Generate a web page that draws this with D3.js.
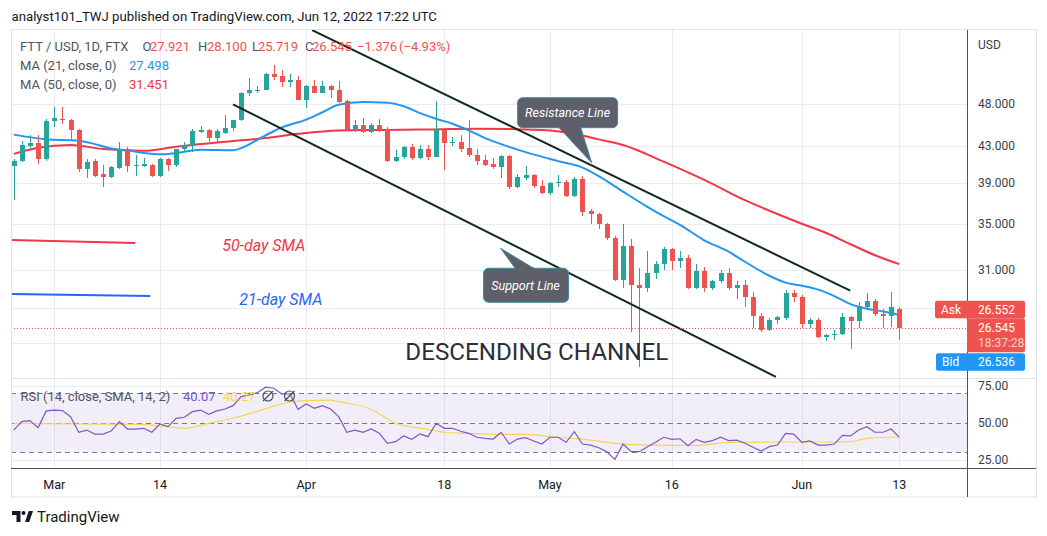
<!DOCTYPE html>
<html><head><meta charset="utf-8">
<script src="https://cdn.jsdelivr.net/npm/d3@7"></script>
<style>body{margin:0;background:#fff;} svg{display:block;font-family:Roboto,"Liberation Sans",sans-serif;}</style>
</head><body><svg id="c" width="1047" height="536"></svg>
<script>
// ---------------- DATA ----------------
const startDay = Date.UTC(2022, 1, 24); // first daily candle (index 0)
const opens  = [40.8,41.3,43.0,43.3,41.5,45.9,46.2,46.0,44.9,40.4,41.3,39.9,39.6,40.6,42.7,40.8,40.8,40.9,39.7,41.5,40.9,42.7,43.0,44.6,44.9,43.9,44.5,45.1,46.0,49.4,49.7,49.9,52.0,51.7,50.9,51.2,48.6,50.4,49.5,50.4,49.9,48.4,44.9,45.5,44.6,45.5,45.0,41.3,41.7,42.9,41.6,42.7,41.8,44.8,43.3,43.5,42.8,42.0,41.4,41.0,40.7,41.9,38.6,39.5,39.8,38.7,38.0,39.0,39.1,37.7,39.4,36.2,35.9,35.0,33.7,30.15,33.0,29.75,29.55,30.75,31.45,32.75,31.75,31.95,29.55,30.85,29.55,30.05,30.75,29.55,29.75,28.85,27.45,26.45,27.15,27.25,29.15,28.85,26.85,27.15,25.95,26.05,26.15,27.35,27.05,28.05,28.55,27.55,27.45,27.921];
const highs  = [41.5,43.6,44.3,44.2,46.2,47.6,47.6,46.2,45.0,41.5,41.5,40.9,40.8,43.5,42.9,42.0,41.6,41.0,41.6,41.6,42.7,43.5,45.0,45.3,45.0,45.0,46.6,46.1,49.6,51.4,50.4,52.2,53.3,52.5,52.0,51.7,50.5,51.2,51.1,50.5,51.1,48.6,46.0,46.3,45.7,46.2,45.2,42.5,43.0,43.2,43.1,43.1,48.4,44.9,44.0,44.3,46.0,42.6,42.0,41.6,42.0,42.0,39.9,40.8,39.9,39.3,39.1,39.8,39.3,39.6,39.7,36.4,36.0,35.1,33.9,35.0,33.6,31.15,32.55,31.75,32.95,32.85,32.55,32.25,31.45,31.25,30.15,30.95,31.15,30.05,30.15,29.25,27.65,27.25,27.45,29.35,29.35,28.95,27.25,27.25,26.15,26.45,27.65,27.45,28.45,29.15,28.65,27.95,29.25,28.100];
const lows   = [37.3,41.2,42.8,41.0,41.3,45.2,45.6,43.8,40.1,39.5,39.6,38.6,39.5,40.5,40.1,39.7,40.7,39.6,39.6,40.2,40.7,42.3,42.3,44.5,43.5,43.5,44.4,44.7,45.9,49.1,49.5,49.8,51.2,50.3,50.2,48.5,47.5,49.4,49.4,48.8,48.2,44.8,44.6,44.5,44.5,44.6,41.2,41.2,41.5,41.4,41.5,41.4,41.7,40.3,43.0,42.3,41.8,40.9,40.8,40.5,39.5,38.4,38.5,39.3,38.5,37.9,37.8,38.6,37.6,37.6,35.7,35.0,34.5,33.5,30.05,29.55,26.25,23.95,29.25,30.25,30.95,30.95,31.15,29.45,29.45,29.25,29.35,29.95,29.35,28.65,28.05,26.55,26.25,26.35,26.85,27.15,28.45,26.55,26.55,25.85,25.65,25.75,26.05,25.15,26.55,27.95,27.45,26.55,26.65,25.719];
const closes = [41.3,43.1,43.3,41.5,45.9,46.3,46.0,44.8,40.4,41.2,39.7,39.6,40.7,42.7,40.8,40.9,41.0,39.7,41.5,40.9,42.6,43.1,44.7,44.9,43.9,44.7,45.1,46.0,49.5,49.8,49.9,52.0,51.6,50.9,51.2,48.6,50.4,49.5,50.4,49.9,48.3,44.9,45.5,44.6,45.5,44.8,41.3,41.8,42.9,41.6,42.7,41.8,44.8,43.3,43.5,42.6,42.0,41.3,40.9,40.7,41.9,38.6,39.6,39.8,38.7,38.0,39.0,39.1,37.7,39.4,36.1,35.9,35.0,33.7,30.15,33.0,29.75,29.55,30.75,31.45,32.75,31.75,31.95,29.55,30.85,29.55,30.05,30.75,29.55,29.75,28.85,27.45,26.45,27.15,27.35,29.15,28.85,26.85,27.15,25.95,26.05,26.15,27.35,27.05,28.15,28.55,27.55,27.45,28.05,26.545];

const ma21Days = [0,4,8,10,12,14,16,18,20,23,27,28,30,32,33,36,38,40,43,46,48,50,52,54,56,58,60,63,67,70,72,75,78,80,82,85,88,90,93,95,97,99,101,103,105,107,109];
const ma21     = [44.3,43.75,43.6,43.2,42.7,42.5,42.2,42.05,42.2,42.55,42.5,42.75,43.7,44.7,45.15,46.1,47.0,47.95,48.3,48.2,47.75,46.9,46.2,45.6,44.8,43.9,43.2,42.3,41.3,40.6,39.7,38.1,36.6,35.7,34.9,33.5,32.5,31.65,30.5,29.95,29.7,29.4,28.9,28.3,27.95,27.75,27.498];
const ma50Days = [0,3,7,11,16,20,27,31,35,40,45,50,57,65,70,72,75,80,85,90,95,97,100,103,106,109];
const ma50     = [42.1,42.8,43.1,42.65,42.45,42.9,43.55,43.9,44.4,44.8,44.85,44.9,45.0,44.85,44.2,43.75,43.1,41.25,39.3,37.25,35.6,35.0,34.15,33.15,32.2,31.451];

const rsi = [45.0,50.7,51.4,46.6,58.0,58.6,58.2,54.1,43.5,45.0,42.3,42.3,44.4,50.7,45.7,45.7,46.2,43.5,49.1,47.3,53.0,53.7,57.5,58.6,55.7,58.0,59.3,61.6,67.7,68.8,70.4,74.1,73.4,69.5,69.5,59.1,62.7,59.8,61.6,59.3,54.1,43.5,45.0,43.5,45.7,42.8,36.0,37.1,41.0,38.7,42.3,40.5,49.6,46.2,46.2,44.2,42.8,40.1,39.4,38.9,43.5,35.5,38.9,39.8,37.6,35.5,40.1,40.1,36.7,43.9,35.5,34.8,33.0,30.3,25.1,35.5,30.3,30.3,33.7,36.7,40.1,38.7,39.1,34.4,38.7,36.7,37.8,40.1,37.8,38.2,36.0,33.3,30.7,33.7,34.8,42.8,42.3,36.7,37.6,34.8,34.8,35.5,41.4,41.0,45.0,47.3,43.5,43.5,45.7,40.07];
const rsiMaDays = [0,8,16,18,21,24,27,30,34,36,39,40,44,47,51,53,56,59,63,67,71,74,78,84,88,94,100,103,105,109];
const rsiMa     = [49.6,49.1,48.9,47.8,46.2,49.6,53.0,57.8,63.9,65.0,65.4,64.3,59.1,49.6,45.5,43.5,42.8,42.1,42.1,40.1,38.2,36.0,34.8,34.6,36.7,36.9,36.9,37.1,39.4,40.27];

const priceTicks = [48, 43, 39, 35, 31, 28, 25.5];
const rsiTicks = [75, 50, 25];
const rsiLevels = [70, 50, 30];
const timeTicks = ["2022-03-01","2022-03-14","2022-04-01","2022-04-18","2022-05-01","2022-05-16","2022-06-01","2022-06-13"];
const timeTickLabels = ["Mar","14","Apr","18","May","16","Jun","13"];
const askPrice = 26.552, bidPrice = 26.536, lastPrice = 26.545, countdown = "18:37:28";

// annotation anchors (day index, price)
const resistanceLine = [[36.72, 58.41], [102.96, 29.32]];
const supportLine    = [[26.99, 48.0], [93.81, 23.34]];
const sma50Key = [[-0.33, 33.53], [14.95, 33.26]];
const sma21Key = [[-0.33, 29.07], [16.8, 28.91]];

// ---------------- LAYOUT ----------------
const L = 11, R = 967, T = 30, MB = 378, RB = 468, FR = 1036, FB = 497;
const day = i => new Date(startDay + i * 864e5);
const x = d3.scaleUtc().domain([day(0), day(109)]).range([13.7, 899.3]);
const y = d3.scaleLog().domain([25, 48]).range([350.94, 104.3]);
const yr = d3.scaleLinear().domain([25, 75]).range([459.5, 385.9]);
const X = i => x(day(i));

const svg = d3.select("#c");
const defs = svg.append("defs");
defs.append("clipPath").attr("id","mainClip").append("rect").attr("x",L).attr("y",T).attr("width",R-L).attr("height",MB-T);
defs.append("clipPath").attr("id","rsiClip").append("rect").attr("x",L).attr("y",MB).attr("width",R-L).attr("height",RB-MB);

svg.append("rect").attr("width",1047).attr("height",536).attr("fill","#fff");

// header
svg.append("text").attr("x",11.5).attr("y",16).attr("dominant-baseline","central")
  .attr("font-size",13.2).attr("fill","#131722").text("analyst101_TWJ published on TradingView.com, Jun 12, 2022 17:22 UTC");

// grids
const grid = svg.append("g").attr("stroke","#e9ecf1").attr("stroke-width",1);
grid.selectAll(".hg").data(priceTicks).join("line")
  .attr("x1",L).attr("x2",R).attr("y1",d=>Math.round(y(d))+0.5).attr("y2",d=>Math.round(y(d))+0.5);
grid.selectAll(".rg").data([75,25]).join("line")
  .attr("x1",L).attr("x2",R).attr("y1",d=>Math.round(yr(d))+0.5).attr("y2",d=>Math.round(yr(d))+0.5);
const tickDates = timeTicks.map(s => new Date(s + "T00:00:00Z"));
grid.selectAll(".vg").data(tickDates).join("line")
  .attr("x1",d=>Math.round(x(d))+0.5).attr("x2",d=>Math.round(x(d))+0.5).attr("y1",T).attr("y2",RB);

// RSI pane
const rsiG = svg.append("g").attr("clip-path","url(#rsiClip)");
rsiG.append("rect").attr("x",L).attr("width",R-L).attr("y",yr(70)).attr("height",yr(30)-yr(70)).attr("fill","rgba(126,87,194,0.1)");
rsiG.selectAll(".lv").data(rsiLevels).join("line")
  .attr("x1",L).attr("x2",R).attr("y1",d=>Math.round(yr(d))+0.5).attr("y2",d=>Math.round(yr(d))+0.5)
  .attr("stroke","#787b86").attr("stroke-dasharray","5,4").attr("stroke-width",1);
rsiG.append("path").datum(rsiMaDays.map((d,k)=>[d,rsiMa[k]]))
  .attr("d", d3.line().x(d=>X(d[0])).y(d=>yr(d[1])).curve(d3.curveMonotoneX))
  .attr("fill","none").attr("stroke","#f5d64e").attr("stroke-width",1.2);
rsiG.append("path").datum(rsi.map((v,i)=>[i,v]))
  .attr("d", d3.line().x(d=>X(d[0])).y(d=>yr(d[1])))
  .attr("fill","none").attr("stroke","#7e57c2").attr("stroke-width",1.2);

// main pane
const main = svg.append("g").attr("clip-path","url(#mainClip)");
const maLine = d3.line().x(d=>X(d[0])).y(d=>y(d[1])).curve(d3.curveMonotoneX);
main.append("path").datum(ma50Days.map((d,k)=>[d,ma50[k]])).attr("d",maLine)
  .attr("fill","none").attr("stroke","#f23645").attr("stroke-width",2);
main.append("path").datum(ma21Days.map((d,k)=>[d,ma21[k]])).attr("d",maLine)
  .attr("fill","none").attr("stroke","#2196f3").attr("stroke-width",2);

const candles = closes.map((c,i)=>({i,o:opens[i],h:highs[i],l:lows[i],c}));
const cg = main.append("g").attr("shape-rendering","crispEdges");
cg.selectAll(".wk").data(candles).join("rect")
  .attr("x",d=>Math.round(X(d.i))).attr("width",1)
  .attr("y",d=>y(d.h)).attr("height",d=>Math.max(1,y(d.l)-y(d.h)))
  .attr("fill",d=>d.c>=d.o?"#26a69a":"#ef5350");
cg.selectAll(".bd").data(candles).join("rect")
  .attr("x",d=>Math.round(X(d.i))-2).attr("width",5)
  .attr("y",d=>y(Math.max(d.o,d.c))).attr("height",d=>Math.max(1,Math.abs(y(d.o)-y(d.c))))
  .attr("fill",d=>d.c>=d.o?"#26a69a":"#ef5350");

// channel lines
[resistanceLine, supportLine].forEach(seg=>{
  main.append("line").attr("x1",X(seg[0][0])).attr("y1",y(seg[0][1])).attr("x2",X(seg[1][0])).attr("y2",y(seg[1][1]))
    .attr("stroke","#0f2a1f").attr("stroke-width",2);
});
// SMA key lines
main.append("line").attr("x1",X(sma50Key[0][0])).attr("y1",y(sma50Key[0][1])).attr("x2",X(sma50Key[1][0])).attr("y2",y(sma50Key[1][1]))
  .attr("stroke","#f23645").attr("stroke-width",2);
main.append("line").attr("x1",X(sma21Key[0][0])).attr("y1",y(sma21Key[0][1])).attr("x2",X(sma21Key[1][0])).attr("y2",y(sma21Key[1][1]))
  .attr("stroke","#2962ff").attr("stroke-width",2);
main.append("text").attr("x",X(25.67)).attr("y",y(33.0)).attr("dominant-baseline","central")
  .attr("font-size",16).attr("font-style","italic").attr("fill","#f23645").text("50-day SMA");
main.append("text").attr("x",X(27.76)).attr("y",y(28.61)).attr("dominant-baseline","central")
  .attr("font-size",16).attr("font-style","italic").attr("fill","#2962ff").text("21-day SMA");
main.append("text").attr("x",X(48.2)).attr("y",y(24.93)).attr("dominant-baseline","central")
  .attr("font-size",24).attr("fill","#2a2e39").attr("textLength",263).attr("lengthAdjust","spacingAndGlyphs").text("DESCENDING CHANNEL");

// callouts
function callout(tipDay, tipPrice, box, tri, label, textOff){
  const tx = X(tipDay), ty = y(tipPrice);
  const g = main.append("g");
  g.append("rect").attr("x",tx+box[0]).attr("y",ty+box[1]).attr("width",box[2]).attr("height",box[3]).attr("rx",5)
    .attr("fill","#5d606b").attr("stroke","#3a8d9a").attr("stroke-width",1);
  g.append("path").attr("d",`M${tx},${ty}L${tx+tri[0][0]},${ty+tri[0][1]}L${tx+tri[1][0]},${ty+tri[1][1]}Z`)
    .attr("fill","#5d606b").attr("stroke","#3a8d9a").attr("stroke-width",1);
  g.append("path").attr("d",`M${tx+tri[0][0]+1},${ty+tri[0][1]}L${tx+tri[1][0]-1},${ty+tri[1][1]}`)
    .attr("stroke","#5d606b").attr("stroke-width",2.5);
  g.append("text").attr("x",tx+textOff[0]).attr("y",ty+textOff[1]).attr("text-anchor","middle").attr("dominant-baseline","central")
    .attr("font-size",12.5).attr("font-style","italic").attr("fill","#fff").text(label);
}
callout(71.13, 41.13, [-74,-65,100,30], [[-33,-35.5],[-11,-35.5]], "Resistance Line", [-24,-50]);
callout(59.92, 32.80, [-17,20,85,34], [[15,20.5],[34,20.5]], "Support Line", [25,37]);

// last price dotted line
svg.append("line").attr("x1",L).attr("x2",R).attr("y1",Math.round(y(lastPrice))+0.5).attr("y2",Math.round(y(lastPrice))+0.5)
  .attr("stroke","#ef5350").attr("stroke-dasharray","1,2").attr("stroke-width",1);

// frame and axes lines
svg.append("rect").attr("x",L+0.5).attr("y",T-0.5).attr("width",FR-L).attr("height",FB-T+0.5).attr("fill","none").attr("stroke","#e0e3eb");
svg.append("line").attr("x1",L).attr("x2",FR).attr("y1",MB+0.5).attr("y2",MB+0.5).attr("stroke","#e0e3eb");
svg.append("line").attr("x1",L).attr("x2",FR).attr("y1",RB+0.5).attr("y2",RB+0.5).attr("stroke","#50535e");
svg.append("line").attr("x1",R+0.5).attr("x2",R+0.5).attr("y1",T).attr("y2",FB).attr("stroke","#50535e");

// price axis labels (labels covered by the price boxes are hidden, as in the reference)
const ly = y(lastPrice);
const shownTicks = priceTicks.filter(t => y(t) < ly - 30 || y(t) > ly + 46);
const ax = svg.append("g").attr("font-size",12).attr("fill","#3b3e48");
ax.append("text").attr("x",978).attr("y",45).attr("dominant-baseline","central").text("USD");
ax.selectAll(".pt").data(shownTicks).join("text").attr("x",978).attr("y",d=>y(d)).attr("dominant-baseline","central")
  .text(d=>d3.format(".3f")(d));
ax.selectAll(".rt").data(rsiTicks).join("text").attr("x",978).attr("y",d=>yr(d)).attr("dominant-baseline","central")
  .text(d=>d3.format(".2f")(d));
// time axis labels
svg.append("g").attr("font-size",12.5).attr("fill","#131722").selectAll("text").data(tickDates).join("text")
  .attr("x",d=>x(d)).attr("y",484).attr("text-anchor","middle").attr("dominant-baseline","central")
  .text((d,k)=>timeTickLabels[k]);

// price boxes
const bx = svg.append("g").attr("font-size",12);
bx.append("rect").attr("x",935).attr("y",ly-27.5).attr("width",90).attr("height",17.5).attr("rx",2).attr("fill","#ef5350");
bx.append("text").attr("x",941).attr("y",ly-18.5).attr("dominant-baseline","central").attr("fill","#fff").text("Ask");
bx.append("text").attr("x",978).attr("y",ly-18.5).attr("dominant-baseline","central").attr("fill","#fff").text(d3.format(".3f")(askPrice));
bx.append("rect").attr("x",R).attr("y",ly-10).attr("width",58).attr("height",34).attr("rx",2).attr("fill","#ef5350");
bx.append("text").attr("x",978).attr("y",ly).attr("dominant-baseline","central").attr("fill","#fff").text(d3.format(".3f")(lastPrice));
bx.append("text").attr("x",978).attr("y",ly+15).attr("dominant-baseline","central").attr("fill","#fcd3d1").text(countdown);
bx.append("rect").attr("x",936).attr("y",ly+25).attr("width",89).attr("height",17.5).attr("rx",2).attr("fill","#2196f3");
bx.append("text").attr("x",942).attr("y",ly+34).attr("dominant-baseline","central").attr("fill","#fff").text("Bid");
bx.append("text").attr("x",978).attr("y",ly+34).attr("dominant-baseline","central").attr("fill","#fff").text(d3.format(".3f")(bidPrice));

// legends
const lg = svg.append("g").attr("font-size",13).attr("dominant-baseline","central");
const leg1 = [["FTT / USD, 1D, FTX",20,"#50535e"],["O",142.5,"#50535e"],["27.921",150,"#ef5350"],["H",198,"#50535e"],["28.100",207,"#ef5350"],
  ["L",252,"#50535e"],["25.719",258,"#ef5350"],["C",305,"#50535e"],["26.545",312,"#ef5350"],["\u22121.376",357,"#ef5350"],["(\u22124.93%)",399,"#ef5350"]];
leg1.forEach(d=>lg.append("text").attr("x",d[1]).attr("y",46).attr("fill",d[2]).text(d[0]));
lg.append("text").attr("x",20).attr("y",65).attr("fill","#50535e").text("MA (21, close, 0)");
lg.append("text").attr("x",129).attr("y",65).attr("fill","#2196f3").text(d3.format(".3f")(ma21[ma21.length-1]));
lg.append("text").attr("x",20).attr("y",84).attr("fill","#50535e").text("MA (50, close, 0)");
lg.append("text").attr("x",129).attr("y",84).attr("fill","#f23645").text(d3.format(".3f")(ma50[ma50.length-1]));
lg.append("text").attr("x",20.5).attr("y",396).attr("fill","#50535e").text("RSI (14, close, SMA, 14, 2)");
lg.append("text").attr("x",183).attr("y",396).attr("fill","#7e57c2").text(d3.format(".2f")(rsi[rsi.length-1]));
lg.append("text").attr("x",223).attr("y",396).attr("fill","#f5d64e").text(d3.format(".2f")(rsiMa[rsiMa.length-1]));
[268,289.5].forEach(cx=>{
  svg.append("circle").attr("cx",cx).attr("cy",396).attr("r",5).attr("fill","none").attr("stroke","#50535e").attr("stroke-width",1.2);
  svg.append("line").attr("x1",cx-5).attr("y1",401).attr("x2",cx+5).attr("y2",391).attr("stroke","#50535e").attr("stroke-width",1.2);
});

// TradingView logo
const logo = svg.append("g").attr("fill","#131722");
logo.append("path").attr("d","M12 511 H20.5 V522 H16.5 V515 H12 Z");
logo.append("circle").attr("cx",23.5).attr("cy",513).attr("r",2);
logo.append("path").attr("d","M25 522 L28.8 511 H33 L29.2 522 Z");
svg.append("text").attr("x",37).attr("y",517).attr("dominant-baseline","central").attr("font-size",15).attr("fill","#131722").text("TradingView");
</script></body></html>
